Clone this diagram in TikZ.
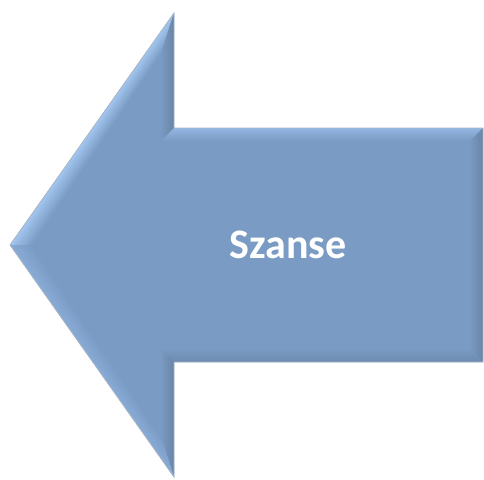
\documentclass[tikz,border=0pt]{standalone}
\usepackage{fontspec}
\setmainfont{Carlito}
\usetikzlibrary{calc}
\definecolor{arrowbase}{HTML}{7A9BC3}
\definecolor{bevellight}{HTML}{A2C6F0}
\definecolor{bevelmid}{HTML}{92B6E2}
\definecolor{beveldark}{HTML}{6A86A8}
\definecolor{bevelshade}{HTML}{6F8CB0}
\definecolor{bevelsoft}{HTML}{88ABD6}
\definecolor{rimline}{HTML}{A9B6C6}
\tikzset{
  label/.style={text=white, font=\bfseries\fontsize{42}{50}\selectfont}
}
% one side of the bevel: outer a, outer b, inner b, inner a, colour at the rim
\newcommand\bevelside[5]{%
  \foreach \k in {0,...,13} {
    \pgfmathsetmacro\t{\k/14}
    \pgfmathsetmacro\u{(\k+1.4)/14}
    \pgfmathtruncatemacro\m{100*(1-\k/13)}
    \fill[#5!\m!arrowbase] ($(#1)!\t!(#4)$) -- ($(#2)!\t!(#3)$)
      -- ($(#2)!\u!(#3)$) -- ($(#1)!\u!(#4)$) -- cycle;
  }%
}
\begin{document}
\begin{tikzpicture}[x=1pt,y=-1pt]
  \useasboundingbox (0,0) rectangle (484,479);
  % outer corners
  \coordinate (tip) at (10,245);
  \coordinate (ht) at (174,13);
  \coordinate (st) at (174,128);
  \coordinate (rt) at (483,128);
  \coordinate (rb) at (483,362);
  \coordinate (sb) at (174,362);
  \coordinate (hb) at (174,477);
  % inner corners of the bevel
  \coordinate (tip') at (34,245);
  \coordinate (ht') at (160,57);
  \coordinate (st') at (160,142);
  \coordinate (rt') at (469,142);
  \coordinate (rb') at (469,348);
  \coordinate (sb') at (160,348);
  \coordinate (hb') at (160,433);

  \fill[arrowbase] (tip) -- (ht) -- (st) -- (rt) -- (rb) -- (sb) -- (hb) -- cycle;

  \bevelside{tip}{ht}{ht'}{tip'}{bevellight}
  \bevelside{ht}{st}{st'}{ht'}{beveldark}
  \bevelside{st}{rt}{rt'}{st'}{bevelmid}
  \bevelside{rt}{rb}{rb'}{rt'}{beveldark}
  \bevelside{rb}{sb}{sb'}{rb'}{bevelshade}
  \bevelside{sb}{hb}{hb'}{sb'}{beveldark}
  \bevelside{hb}{tip}{tip'}{hb'}{bevelsoft}

  \draw[rimline, line width=0.8pt, line join=miter] (tip) -- (ht) -- (st) -- (rt) -- (rb) -- (sb) -- (hb) -- cycle;

  \node[label] (title) at (288,245) {Szanse};
\end{tikzpicture}
\end{document}
